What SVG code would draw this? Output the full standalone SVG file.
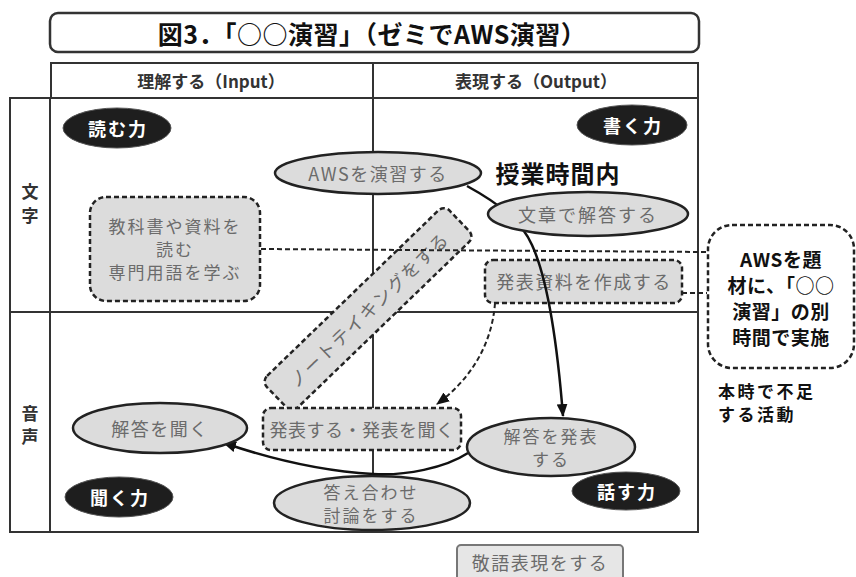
<svg xmlns="http://www.w3.org/2000/svg" width="856" height="577" viewBox="0 0 856 577">
<defs>
<style>
text{font-family:"Noto Sans CJK JP","Noto Sans",sans-serif;dominant-baseline:central;text-anchor:middle}
.grid{fill:none;stroke:#333;stroke-width:2}
.ell{fill:#dcdcdc;stroke:#222;stroke-width:2.5}
.dbox{fill:#dcdcdc;stroke:#222;stroke-width:2.5;stroke-dasharray:5 3}
.t{font-size:18px;fill:#6b6b6b;letter-spacing:1.5px}
.t2{font-size:17px;fill:#6b6b6b;letter-spacing:2px}
.badge{fill:#1e1e1e;stroke:#555;stroke-width:1}
.bt{font-size:18px;font-weight:bold;fill:#fff;letter-spacing:2px}
.hd{font-size:17px;font-weight:bold;fill:#333}
.blk{font-weight:bold;fill:#111}
.conn{fill:none;stroke:#111;stroke-width:2.5}
.dconn{fill:none;stroke:#222;stroke-width:2;stroke-dasharray:5 3}
</style>
<marker id="arr" viewBox="0 0 12 12" refX="11" refY="6" markerWidth="13" markerHeight="13" markerUnits="userSpaceOnUse" orient="auto">
<path d="M0,1 L12,6 L0,11 z" fill="#111"/>
</marker>
</defs>
<rect x="0" y="0" width="856" height="577" fill="#fff"/>

<g id="title">
<rect x="50" y="13" width="649" height="39" rx="8" fill="#fff" stroke="#333" stroke-width="2.5"/>
<text x="372" y="33" class="blk" font-size="25" style="letter-spacing:0.5px">図3．「○○演習」（ゼミでAWS演習）</text>
</g>

<g id="header">
<rect x="51" y="63" width="647" height="35" class="grid"/>
<line x1="373" y1="63" x2="373" y2="98" class="grid"/>
<text x="211" y="80" class="hd">理解する（Input）</text>
<text x="536" y="80" class="hd">表現する（Output）</text>
</g>

<g id="grid">
<rect x="10" y="98" width="688" height="434" class="grid"/>
<line x1="50" y1="98" x2="50" y2="532" class="grid"/>
<line x1="10" y1="312" x2="698" y2="312" class="grid"/>
<line x1="373" y1="98" x2="373" y2="532" class="grid"/>
<text class="hd"><tspan x="30" y="190">文</tspan><tspan x="30" y="214">字</tspan></text>
<text class="hd"><tspan x="30" y="412">音</tspan><tspan x="30" y="435">声</tspan></text>
</g>

<g id="n_note">
<g transform="translate(368,309) rotate(-44)">
<rect x="-127" y="-22" width="254" height="44" rx="8" class="dbox"/>
<text x="0" y="0" class="t">ノートテイキングをする</text>
</g>
</g>

<g id="n_kyokasho">
<rect x="90" y="197" width="170" height="104" rx="16" class="dbox"/>
<text class="t2"><tspan x="175" y="225">教科書や資料を</tspan><tspan x="175" y="248">読む</tspan><tspan x="175" y="271">専門用語を学ぶ</tspan></text>
</g>

<g id="n_shiryo">
<rect x="485" y="260" width="197" height="43" rx="8" class="dbox"/>
<text x="584" y="281" class="t">発表資料を作成する</text>
</g>

<g id="n_happyo">
<rect x="263" y="408" width="198" height="42" rx="8" class="dbox"/>
<text x="362" y="429" class="t" style="letter-spacing:0.5px">発表する・発表を聞く</text>
</g>

<g id="n_extra">
<rect x="708" y="225" width="146" height="143" rx="24" fill="#fff" stroke="#222" stroke-width="2.5" stroke-dasharray="5 3"/>
<text class="blk" font-size="19" style="letter-spacing:0.5px"><tspan x="781" y="258">AWSを題</tspan><tspan x="781" y="284">材に、「○○</tspan><tspan x="781" y="310">演習」の別</tspan><tspan x="781" y="336">時間で実施</tspan></text>
</g>

<g id="connectors">
<path d="M261,249 L707,252" class="dconn"/>
<path d="M682,293 L707,293" class="dconn"/>
<path d="M467,186 C500,204 522,222 532,245 C548,280 557,340 563,416" class="conn" marker-end="url(#arr)"/>
<path d="M495,303 C492,345 470,380 437,404" class="dconn" marker-end="url(#arr)"/>
<path d="M468,453 C445,468 405,476 373,474 C320,471 268,458 224,443" class="conn" marker-end="url(#arr)"/>
</g>

<g id="n_aws">
<ellipse cx="378" cy="173" rx="103" ry="21" class="ell"/>
<text x="378" y="173" class="t">AWSを演習する</text>
</g>

<g id="n_bunsho">
<ellipse cx="588" cy="214" rx="100" ry="22" class="ell"/>
<text x="588" y="214" class="t" style="letter-spacing:2px">文章で解答する</text>
</g>

<g id="n_kiku">
<ellipse cx="160" cy="428" rx="87" ry="25" class="ell"/>
<text x="160" y="428" class="t">解答を聞く</text>
</g>

<g id="n_kaito_happyo">
<ellipse cx="551" cy="447" rx="84" ry="29" class="ell"/>
<text class="t2"><tspan x="551" y="435">解答を発表</tspan><tspan x="551" y="458">する</tspan></text>
</g>

<g id="n_kotae">
<ellipse cx="372" cy="503" rx="98" ry="27" class="ell"/>
<text class="t2"><tspan x="371" y="491">答え合わせ</tspan><tspan x="371" y="514">討論をする</tspan></text>
</g>

<g id="b_yomu">
<ellipse cx="117" cy="128" rx="54" ry="20" class="badge"/>
<text x="118" y="128" class="bt">読む力</text>
</g>
<g id="b_kaku">
<ellipse cx="632" cy="125" rx="55" ry="20" class="badge"/>
<text x="633" y="125" class="bt">書く力</text>
</g>
<g id="b_kiku">
<ellipse cx="119" cy="497" rx="54" ry="20" class="badge"/>
<text x="120" y="497" class="bt">聞く力</text>
</g>
<g id="b_hanasu">
<ellipse cx="626" cy="491" rx="54" ry="19" class="badge"/>
<text x="627" y="491" class="bt">話す力</text>
</g>

<g id="n_keigo">
<rect x="457" y="545" width="166" height="38" rx="4" fill="#e6e6e6" stroke="#777" stroke-width="2"/>
<text x="540" y="562" class="t">敬語表現をする</text>
</g>

<g id="labels">
<text x="558" y="172" class="blk" font-size="24" style="letter-spacing:1px">授業時間内</text>
<text class="blk" font-size="17" style="text-anchor:start;letter-spacing:2.5px"><tspan x="718" y="390">本時で不足</tspan><tspan x="718" y="413">する活動</tspan></text>
</g>
</svg>
